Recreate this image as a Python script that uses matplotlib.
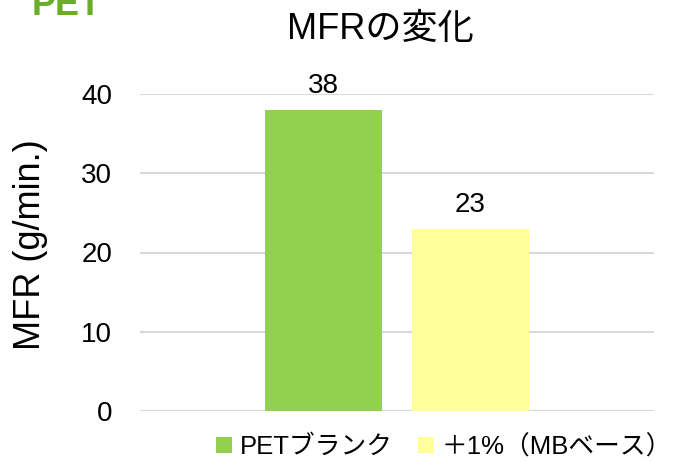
import numpy as np
import matplotlib
matplotlib.use("Agg")
import matplotlib.pyplot as plt

FONTS = ["Liberation Sans", "Noto Sans CJK JP", "DejaVu Sans"]
plt.rcParams["font.family"] = FONTS

# ---------- data ----------
categories = ["MFR"]
series_names = ["PETブランク", "＋1%（MBベース）"]
blank_vals = [38]
mb_vals = [23]
yticks = [0, 10, 20, 30, 40]

GREEN = "#92d050"
YELLOW = "#ffff99"
GRID = "#d9d9d9"
TITLE_GREEN = "#6aad2a"

fig = plt.figure(figsize=(6.8, 4.62), dpi=100)
ax = fig.add_axes([140 / 680, 1 - 411 / 462, 514 / 680, 317 / 462])

x = np.arange(len(categories))
w = 0.228
off = 0.1426
b1 = ax.bar(x - off, blank_vals, w, color=GREEN, label=series_names[0], zorder=2)
b2 = ax.bar(x + off, mb_vals, w, color=YELLOW, label=series_names[1], zorder=2)

for bars in (b1, b2):
    for b in bars:
        v = b.get_height()
        ax.annotate(f"{v:.0f}", (b.get_x() + b.get_width() / 2, v),
                    xytext=(0, 8), textcoords="offset points",
                    ha="center", va="bottom", fontsize=20, color="black")

ax.set_xlim(-0.5, 0.5)
ax.set_ylim(0, 40)
ax.set_yticks(yticks)
ax.set_xticks([])
ax.tick_params(axis="y", length=0, labelsize=20, pad=20)
ax.yaxis.grid(True, color=GRID, linewidth=1.5, zorder=0)
ax.set_axisbelow(True)
for s in ax.spines.values():
    s.set_visible(False)

fig.text(30 / 680, 1 - 245 / 462, "MFR (g/min.)", rotation=90,
         ha="center", va="center", fontsize=26)

fig.text(380 / 680, 1 - 29 / 462, "MFRの変化", ha="center", va="center",
         fontsize=26)

# heading from the slide above, clipped at the top edge as in the source
fig.text(32 / 680, 1 - 15 / 462, "PET", ha="left", va="baseline",
         fontsize=26, fontweight="bold", color=TITLE_GREEN)

fig.legend(handles=[b1, b2], loc="center", ncol=2, frameon=False,
           bbox_to_anchor=(444 / 680, 1 - 447 / 462), fontsize=18.5,
           handlelength=0.6, handleheight=0.6, handletextpad=0.3,
           columnspacing=1.0, borderpad=0.2)

fig.savefig("out.png", dpi=100, facecolor="white")
